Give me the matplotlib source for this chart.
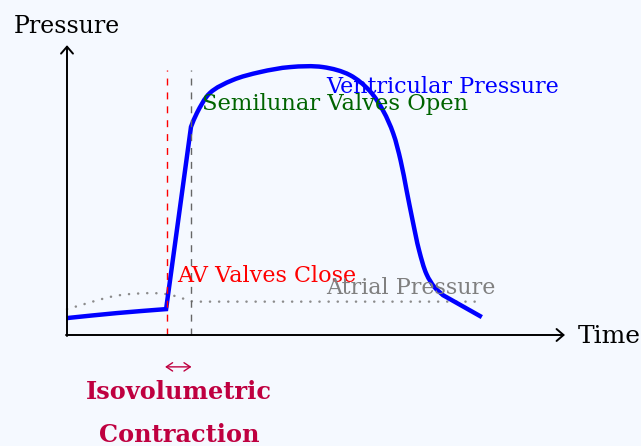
import numpy as np
import matplotlib
matplotlib.use("Agg")
import matplotlib.pyplot as plt
from matplotlib.path import Path
from matplotlib.patches import PathPatch

# ventricular pressure (x = time, y = pressure)
vent_rise_x = [0.0, 1.0, 1.99]
vent_rise_y = [0.34, 0.44, 0.52]
vent_top_x = [2.49, 2.61, 2.87, 3.33, 3.88, 4.48, 5.14, 5.68, 6.08, 6.35,
              6.55, 6.70, 6.82, 6.94, 7.07, 7.22, 7.38, 7.55]
vent_top_y = [4.18, 4.46, 4.86, 5.12, 5.28, 5.38, 5.38, 5.22, 4.90, 4.50,
              4.05, 3.50, 2.90, 2.30, 1.70, 1.22, 0.96, 0.80]
vent_end = (8.33, 0.36)

# atrial pressure
atr_x = [0.0, 1.0, 1.73, 2.05, 2.53]
atr_y = [0.52, 0.79, 0.84, 0.81, 0.67]
atr_end = (8.35, 0.67)

av_close_t = 2.0
semilunar_t = 2.5
marker_top = 5.32

x_len = 10.0
y_len = 5.82

BG = '#f5f9ff'
CRIMSON = '#bf0040'
GREEN = '#006400'

plt.rcParams['font.family'] = ['DejaVu Serif']


def smooth(xs, ys, alpha=0.5):
    # centripetal catmull-rom through the points, as cubic bezier pieces
    p = np.column_stack([xs, ys]).astype(float)
    p = np.vstack([2 * p[0] - p[1], p, 2 * p[-1] - p[-2]])
    verts, codes = [], []
    for i in range(1, len(p) - 2):
        p0, p1, p2, p3 = p[i - 1], p[i], p[i + 1], p[i + 2]
        d1 = np.linalg.norm(p1 - p0) ** alpha
        d2 = np.linalg.norm(p2 - p1) ** alpha
        d3 = np.linalg.norm(p3 - p2) ** alpha
        b1 = (d1**2 * p2 - d2**2 * p0 + (2 * d1**2 + 3 * d1 * d2 + d2**2) * p1) \
            / (3 * d1 * (d1 + d2))
        b2 = (d3**2 * p1 - d2**2 * p3 + (2 * d3**2 + 3 * d3 * d2 + d2**2) * p2) \
            / (3 * d3 * (d3 + d2))
        verts += [tuple(b1), tuple(b2), tuple(p2)]
        codes += [Path.CURVE4] * 3
    return verts, codes


fig = plt.figure(figsize=(6.41, 4.46), dpi=100)
fig.patch.set_facecolor(BG)
ax = fig.add_axes([0, 0, 1, 1])
ax.set_facecolor(BG)
ax.set_xlim(-1.345, 11.526)
ax.set_ylim(-2.229, 6.727)
ax.set_aspect('equal')
ax.axis('off')

# axes with arrows
arrow = dict(arrowstyle='->,head_length=0.5,head_width=0.43', lw=1.4,
             color='black', shrinkA=0, shrinkB=0, mutation_scale=10)
ax.annotate('', xy=(x_len, 0), xytext=(-0.02, 0), arrowprops=arrow)
ax.annotate('', xy=(0, y_len), xytext=(0, -0.02), arrowprops=arrow)
ax.text(0, 6.06, 'Pressure', fontsize=17, ha='center', va='baseline')
ax.text(10.26, -0.16, 'Time', fontsize=18, ha='left', va='baseline')

# valve markers
ax.plot([av_close_t, av_close_t], [0, marker_top], color='red', lw=1.0,
        linestyle=(0, (5, 5)))
ax.plot([semilunar_t, semilunar_t], [0, marker_top], color='#666666', lw=1.0,
        linestyle=(0, (5, 5)))

# atrial pressure (dotted)
v, c = smooth(atr_x, atr_y)
verts = [(atr_x[0], atr_y[0])] + v + [atr_end]
codes = [Path.MOVETO] + c + [Path.LINETO]
ax.add_patch(PathPatch(Path(verts, codes), fill=False, edgecolor='#8c8c8c',
                       lw=1.8, linestyle=(0, (0.05, 3.6)), capstyle='round'))

# ventricular pressure
v1, c1 = smooth(vent_rise_x, vent_rise_y)
v2, c2 = smooth(vent_top_x, vent_top_y)
verts = ([(vent_rise_x[0], vent_rise_y[0])] + v1
         + [(vent_top_x[0], vent_top_y[0])] + v2 + [vent_end])
codes = [Path.MOVETO] + c1 + [Path.LINETO] + c2 + [Path.LINETO]
ax.add_patch(PathPatch(Path(verts, codes), fill=False, edgecolor='blue',
                       lw=3.2, joinstyle='miter', capstyle='butt'))

# labels
ax.text(5.2, 4.86, 'Ventricular Pressure', color='blue', fontsize=16,
        va='baseline')
ax.text(2.71, 4.52, 'Semilunar Valves Open', color=GREEN, fontsize=16.3,
        va='baseline')
ax.text(2.21, 1.06, 'AV Valves Close', color='red', fontsize=16,
        va='baseline')
ax.text(5.2, 0.82, 'Atrial Pressure', color='gray', fontsize=16,
        va='baseline')

ax.annotate('', xy=(semilunar_t, -0.64), xytext=(av_close_t - 0.03, -0.64),
            arrowprops=dict(arrowstyle='<->,head_length=0.45,head_width=0.3',
                            lw=1.0, color=CRIMSON, shrinkA=0, shrinkB=0,
                            mutation_scale=10))
ax.text(2.24, -1.285, 'Isovolumetric', color=CRIMSON, fontsize=17.3,
        fontweight='bold', ha='center', va='baseline')
ax.text(2.25, -2.15, 'Contraction', color=CRIMSON, fontsize=17.3,
        fontweight='bold', ha='center', va='baseline')

fig.savefig('out.png', dpi=100, facecolor=BG)
